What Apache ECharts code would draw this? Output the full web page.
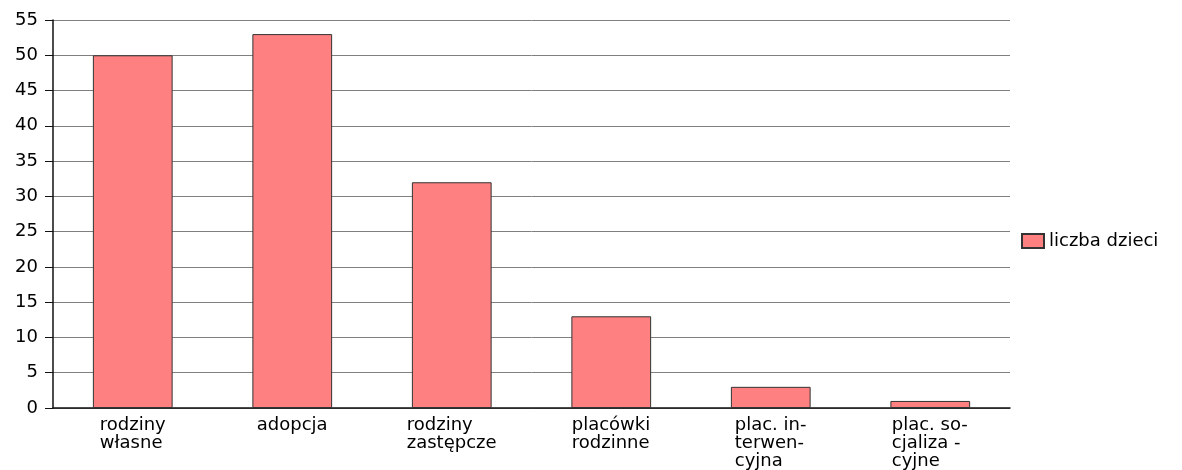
<!DOCTYPE html>
<html>
<head>
<meta charset="utf-8">
<script src="https://cdn.jsdelivr.net/npm/echarts@6/dist/echarts.min.js"></script>
<style>
  html, body { margin: 0; padding: 0; background: #fff; }
  #chart { width: 1182px; height: 470px; }
</style>
</head>
<body>
<div id="chart"></div>
<script>
const categories = [
  'rodziny\nwłasne',
  'adopcja',
  'rodziny\nzastępcze',
  'placówki\nrodzinne',
  'plac. in-\nterwen-\ncyjna',
  'plac. so-\ncjaliza -\ncyjne',
]
const counts = [50, 53, 32, 13, 3, 1]
const seriesName = 'liczba dzieci'

const FONT = '"DejaVu Sans", "Liberation Sans", sans-serif'
const LABEL_SIZE = 18

// each label block is centred under its bar, but its lines are left-aligned
const measureCtx = document.createElement('canvas').getContext('2d')
measureCtx.font = `${LABEL_SIZE}px ${FONT}`
const rich = {}
categories.forEach((c, i) => {
  const w = Math.max(...c.split('\n').map((l) => measureCtx.measureText(l).width))
  rich['c' + i] = { width: Math.ceil(w), align: 'left', fontSize: LABEL_SIZE, fontFamily: FONT, color: '#000', lineHeight: 18 }
})

const chart = echarts.init(document.getElementById('chart'))

chart.setOption({
  animation: false,
  textStyle: { fontFamily: FONT },
  grid: { left: 53, right: 172, top: 20, bottom: 62 },
  legend: {
    data: [{ name: seriesName, icon: 'rect' }],
    orient: 'vertical',
    left: 1021,
    top: 232,
    padding: 0,
    itemWidth: 22,
    itemHeight: 14,
    itemGap: 6,
    textStyle: { fontSize: 18, color: '#000', fontFamily: FONT },
  },
  xAxis: {
    type: 'category',
    data: categories,
    axisLine: { lineStyle: { color: '#111', width: 1.5 } },
    axisTick: { length: 5, lineStyle: { color: '#111' } },
    axisLabel: {
      margin: 8,
      interval: 0,
      formatter: (value, idx) => value.split('\n').map((l) => `{c${idx}|${l}}`).join('\n'),
      rich,
    },
  },
  yAxis: {
    type: 'value',
    min: 0,
    max: 55,
    interval: 5,
    axisLine: { show: true, lineStyle: { color: '#111', width: 1.5 } },
    axisTick: { show: true, length: 8, lineStyle: { color: '#111' } },
    axisLabel: { margin: 15, fontSize: LABEL_SIZE, color: '#000', fontFamily: FONT },
    splitLine: { lineStyle: { color: '#808080', width: 1 } },
  },
  series: [
    {
      name: seriesName,
      type: 'bar',
      data: counts,
      barWidth: '50%',
      itemStyle: { color: '#FF8080', borderColor: '#333', borderWidth: 1 },
    },
  ],
})
</script>
</body>
</html>
